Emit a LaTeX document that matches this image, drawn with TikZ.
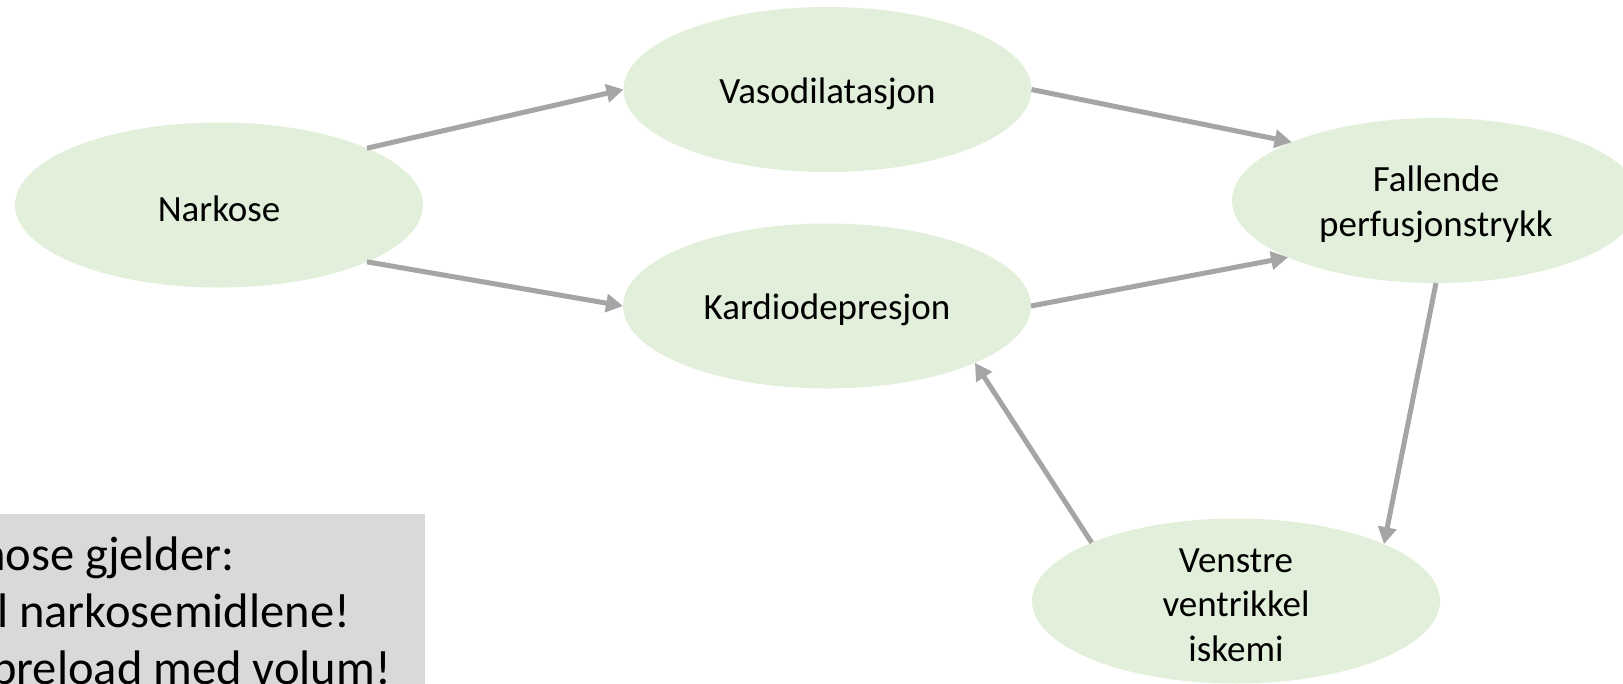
\documentclass[tikz,border=0pt]{standalone}
\usepackage{fontspec}
\setmainfont{Carlito}
\usetikzlibrary{shapes.geometric,arrows.meta}
\definecolor{elfill}{HTML}{E2EFDA}
\definecolor{arrgray}{HTML}{A5A5A5}
\definecolor{boxgray}{HTML}{D9D9D9}
\tikzset{
  bubble/.style={ellipse, fill=elfill, draw=none, inner sep=0pt, outer sep=0pt,
    minimum width=408pt, minimum height=165pt},
  bubtext/.style={inner sep=0pt, align=center, yshift=-4pt,
    font=\fontsize{37}{44.5}\selectfont},
  arr/.style={draw=arrgray, line width=5pt, -{Triangle[length=17pt,width=18pt]}},
  boxtext/.style={anchor=base west, inner sep=0pt, font=\fontsize{48.5}{57}\selectfont}
}
\begin{document}
\begin{tikzpicture}[x=1pt,y=-1pt]
\useasboundingbox (0,0) rectangle (1623,683);
\clip (0,0) rectangle (1623,683);
\node[bubble] (nark) at (219,205) {};
\node[bubble] (vaso) at (827.5,89.5) {};
\node[bubble] (kard) at (827,306) {};
\node[bubble] (fall) at (1436,200.5) {};
\node[bubble] (venst) at (1236,601) {};
\node[bubtext] (narkT) at (nark.center) {Narkose};
\node[bubtext] (vasoT) at (vaso.center) {Vasodilatasjon};
\node[bubtext] (kardT) at (kard.center) {Kardiodepresjon};
\node[bubtext] (fallT) at (fall.center) {Fallende\\perfusjonstrykk};
\node[bubtext] (venstT) at (venst.center) {Venstre\\ventrikkel\\iskemi};
\draw[arr] (nark.21.9) -- (vaso.west);
\draw[arr] (nark.-21.9) -- (kard.west);
\draw[arr] (vaso.east) -- (fall.158.1);
\draw[arr] (kard.east) -- (fall.201.9);
\draw[arr] (fall.south) -- (venst.21.9);
\draw[arr] (venst.158.1) -- (kard.-21.9);
\fill[boxgray] (-10,514) rectangle (425,700);
\node[boxtext] (t1) at (-20,570) {nose gjelder:};
\node[boxtext] (t2) at (-3,627) {l narkosemidlene!};
\node[boxtext] (t3) at (-9,684) {preload med volum!};
\end{tikzpicture}
\end{document}
